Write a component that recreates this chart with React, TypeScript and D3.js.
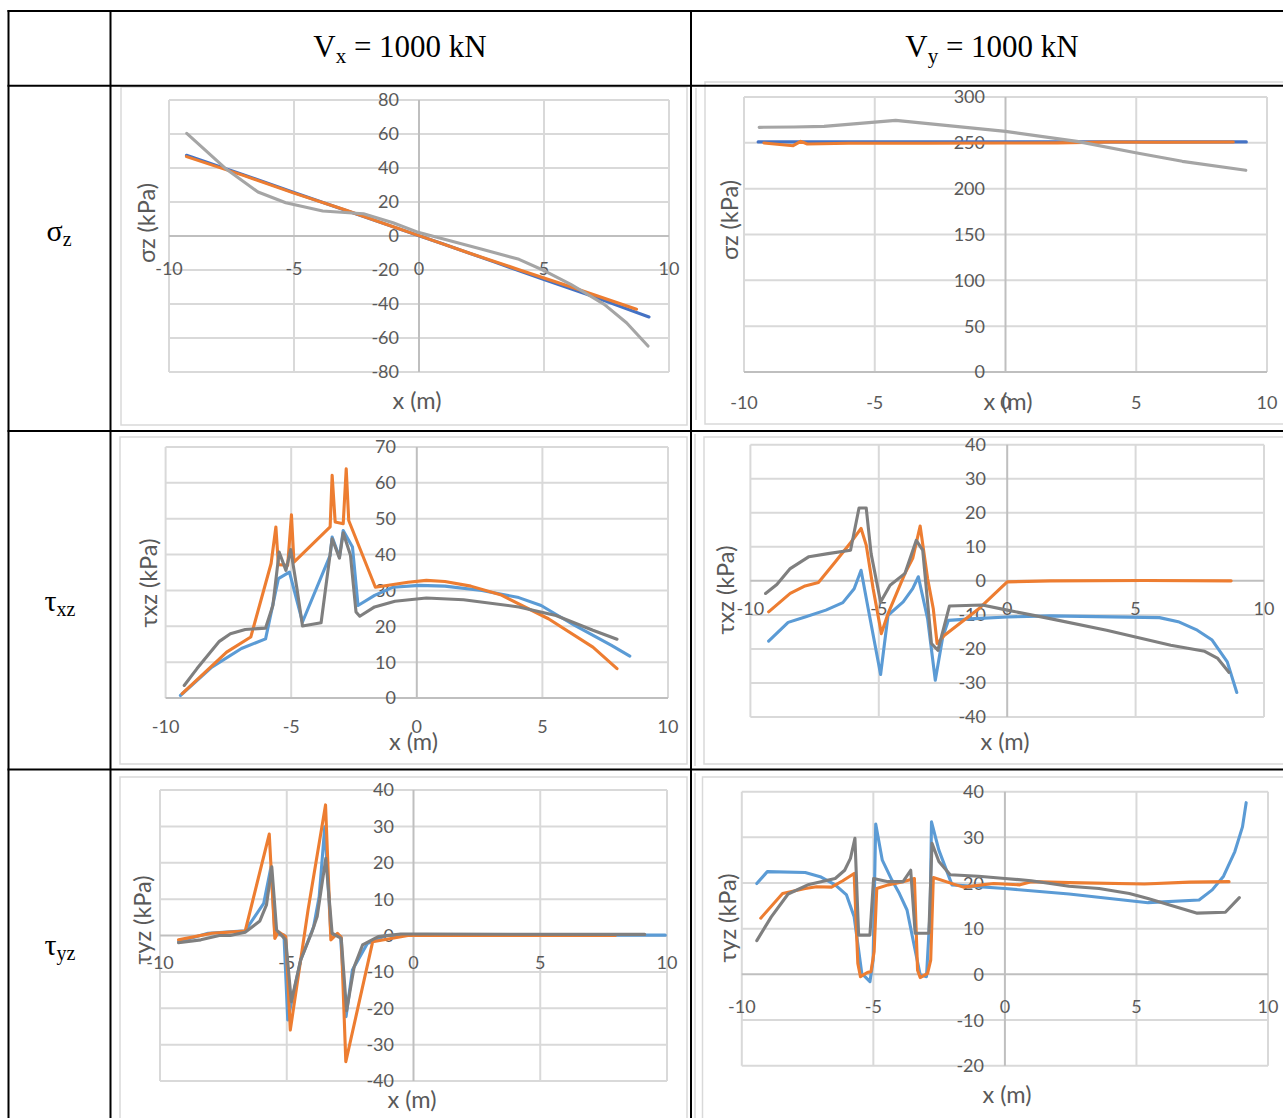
import React from 'react';
import * as d3 from 'd3';

type Pt = [number, number];

// ---------- tick labels & texts ----------
const xTicks = [-10, -5, 0, 5, 10];
const sigmaVxTicks = [-80, -60, -40, -20, 0, 20, 40, 60, 80];
const sigmaVyTicks = [0, 50, 100, 150, 200, 250, 300];
const tauXzVxTicks = [0, 10, 20, 30, 40, 50, 60, 70];
const tauXzVyTicks = [-40, -30, -20, -10, 0, 10, 20, 30, 40];
const tauYzVxTicks = [-40, -30, -20, -10, 0, 10, 20, 30, 40];
const tauYzVyTicks = [-20, -10, 0, 10, 20, 30, 40];

const columnHeaders = [
  { base: 'V', sub: 'x', rest: ' = 1000 kN' },
  { base: 'V', sub: 'y', rest: ' = 1000 kN' },
];
const rowHeaders = [
  { base: 'σ', sub: 'z' },
  { base: 'τ', sub: 'xz' },
  { base: 'τ', sub: 'yz' },
];
const yTitles = ['σz (kPa)', 'τxz (kPa)', 'τyz (kPa)'];
const xTitle = 'x (m)';

// ---------- σz, Vx ----------
const sigmaVxBlue: Pt[] = [[-9.3, 47.5], [-7, 35.9], [-5, 25.6], [-3, 15.4], [-1, 5.2], [0, 0.2], [1, -4.9], [3, -15.2], [5, -25.6], [7, -35.8], [9.2, -47.6]];
const sigmaVxOrange: Pt[] = [[-9.3, 46.7], [-7, 35.5], [-5, 25.2], [-3, 15.6], [-1, 5.3], [0, 0.2], [2, -10], [4, -19.8], [6, -29.6], [8.7, -43.1]];
const sigmaVxGray: Pt[] = [[-9.29, 60.4], [-7.7, 39.2], [-6.44, 25.9], [-5.33, 19.6], [-3.85, 14.7], [-2.22, 13.1], [-1.04, 7.8], [0, 2], [2.52, -7.8], [4, -13.7], [5.04, -20.6], [6.07, -28.4], [7.41, -40.2], [8.3, -51], [9.16, -64.7]];

// ---------- σz, Vy ----------
const sigmaVyBlue: Pt[] = [[-9.46, 251], [-5, 251], [0, 251], [5, 251], [9.21, 251]];
const sigmaVyOrange: Pt[] = [[-9.24, 249.8], [-8.12, 246.9], [-7.83, 251.6], [-7.58, 248.7], [-6, 249.5], [-3, 249.5], [0, 249.8], [2, 250], [4, 250.9], [6, 250.6], [8.71, 250.9]];
const sigmaVyGray: Pt[] = [[-9.42, 266.9], [-8.09, 267.3], [-6.94, 268], [-4.2, 274.5], [0, 262.5], [2.73, 251.6], [5.03, 238.9], [6.76, 229.8], [9.19, 220]];

// ---------- τxz, Vx ----------
const tauXzVxBlue: Pt[] = [[-9.41, 0.7], [-8.16, 8.6], [-6.98, 13.8], [-6.02, 16.5], [-5.51, 33.3], [-5.07, 35.1], [-4.55, 21.2], [-3.45, 39.8], [-3.37, 44.9], [-3.08, 39.3], [-2.93, 46.7], [-2.56, 42.1], [-2.34, 25.8], [-1.68, 28.6], [-0.94, 30.9], [0.09, 31.4], [1.12, 31.2], [2.59, 30], [4.06, 28], [4.95, 25.8], [6.27, 20.3], [7.75, 14.7], [8.48, 11.7]];
const tauXzVxOrange: Pt[] = [[-9.34, 1.2], [-7.57, 12.8], [-6.61, 17], [-5.8, 37.5], [-5.61, 47.7], [-5.51, 37.2], [-5.14, 37], [-4.99, 51.1], [-4.89, 37.9], [-3.45, 47.7], [-3.37, 62.1], [-3.25, 49.1], [-2.93, 48.6], [-2.81, 63.9], [-2.71, 49.5], [-1.65, 30.9], [-0.35, 32.3], [0.38, 32.8], [1.12, 32.5], [2.15, 31.2], [3.33, 28.8], [5.24, 22.1], [7.01, 14.2], [7.97, 8.2]];
const tauXzVxGray: Pt[] = [[-9.26, 3.5], [-8.75, 8.2], [-7.86, 15.8], [-7.42, 17.9], [-6.83, 19.1], [-6.02, 19.5], [-5.73, 25.8], [-5.48, 40.7], [-5.21, 35.6], [-5.02, 41.4], [-4.77, 30.5], [-4.55, 20.1], [-3.81, 21], [-3.37, 44.4], [-3.08, 39], [-2.93, 46.1], [-2.64, 39.8], [-2.42, 24], [-2.27, 22.8], [-1.68, 25.4], [-0.87, 27], [0.38, 27.9], [1.86, 27.4], [4.06, 25.4], [5.54, 23], [7.01, 18.9], [7.97, 16.4]];

// ---------- τxz, Vy ----------
const tauXzVyBlue: Pt[] = [[-9.29, -17.7], [-8.53, -12.2], [-7.87, -10.6], [-7.06, -8.6], [-6.4, -6.4], [-5.96, -2.3], [-5.69, 3.1], [-5.44, -7.1], [-4.93, -27.5], [-4.64, -10.1], [-4.05, -6.2], [-3.68, -2.3], [-3.46, 1.2], [-3.1, -11.1], [-2.8, -29.2], [-2.51, -16.5], [-2.29, -11.6], [-1.26, -11.1], [0, -10.6], [1.67, -10.3], [5.93, -10.8], [6.66, -12], [7.4, -14.5], [7.98, -17.4], [8.57, -23.8], [8.94, -32.8]];
const tauXzVyOrange: Pt[] = [[-9.29, -9.1], [-8.45, -3.7], [-7.87, -1.5], [-7.35, -0.5], [-6.69, 5.6], [-6.1, 11.2], [-5.69, 15.4], [-5.49, 10.5], [-5.22, -2.3], [-4.9, -15.5], [-4.64, -9.6], [-3.98, 2.2], [-3.68, 6.6], [-3.39, 16.1], [-3.1, 0.7], [-2.88, -8.1], [-2.73, -18.4], [-2.44, -16], [-1.12, -8.3], [0, -0.3], [1.67, 0], [5.34, 0.1], [8.72, 0]];
const tauXzVyGray: Pt[] = [[-9.41, -3.7], [-8.97, -1.1], [-8.45, 3.6], [-7.72, 7.1], [-6.98, 8], [-6.1, 9], [-5.77, 21.4], [-5.49, 21.4], [-5.3, 8], [-4.93, -6.2], [-4.56, -1.3], [-3.98, 2.2], [-3.54, 11.9], [-3.29, 9], [-2.95, -18.4], [-2.7, -20.4], [-2.25, -7.4], [-0.97, -7.1], [0, -8.6], [1.67, -11.1], [3.87, -14.5], [6.37, -18.9], [7.69, -20.7], [8.2, -22.8], [8.64, -26.9]];

// ---------- τyz, Vx ----------
const tauYzVxBlue: Pt[] = [[-9.27, -1.7], [-8.1, 0.6], [-6.64, 1.3], [-5.91, 8.8], [-5.62, 18.9], [-5.47, 0.6], [-5.11, 0.1], [-4.96, -23.2], [-4.45, -6.7], [-3.94, 2.4], [-3.72, 10.7], [-3.5, 29.9], [-3.26, 0.6], [-2.88, -0.3], [-2.66, -22.3], [-2.41, -9.5], [-1.82, -2.2], [-1.09, 0], [0, 0.1], [9.93, 0.1]];
const tauYzVxOrange: Pt[] = [[-9.27, -1.2], [-7.96, 0.6], [-6.64, 1.2], [-5.69, 27.9], [-5.47, -0.8], [-5.33, 1], [-5.04, -0.3], [-4.86, -26], [-4.16, 7], [-3.47, 35.9], [-3.26, -1.2], [-3, 0.6], [-2.85, -0.5], [-2.67, -34.7], [-1.61, -1.7], [-0.22, 0], [7.96, 0]];
const tauYzVxGray: Pt[] = [[-9.27, -2], [-8.39, -1.2], [-7.66, 0], [-7.23, 0], [-6.64, 0.9], [-6.06, 4], [-5.8, 8.4], [-5.59, 18.9], [-5.4, 1.5], [-5.04, -1.2], [-4.82, -18.2], [-4.45, -6.7], [-4.01, 0.9], [-3.8, 5.2], [-3.46, 21.2], [-3.21, 0.6], [-2.85, -0.8], [-2.64, -20.7], [-2.34, -8.6], [-2.01, -2.6], [-1.39, -0.3], [-0.51, 0.4], [0.51, 0.4], [9.12, 0.3]];

// ---------- τyz, Vy ----------
const tauYzVyBlue: Pt[] = [[-9.43, 19.9], [-9.03, 22.5], [-7.59, 22.3], [-7.02, 21.4], [-6.45, 19.6], [-6.02, 17.4], [-5.73, 12.6], [-5.44, 0.2], [-5.13, -1.6], [-5.01, 3.1], [-4.91, 32.9], [-4.66, 25], [-4.3, 20.7], [-4.01, 17.7], [-3.72, 14.1], [-3.44, 6.1], [-3.22, -0.1], [-2.98, -0.5], [-2.84, 14.1], [-2.79, 33.4], [-2.51, 27.2], [-2.01, 19.6], [0, 18.8], [2.44, 17.6], [5.44, 15.7], [7.38, 16.3], [7.88, 18.5], [8.31, 21.5], [8.74, 26.9], [9.03, 32.3], [9.17, 37.6]];
const tauYzVyOrange: Pt[] = [[-9.28, 12.3], [-8.45, 17.7], [-7.59, 18.8], [-7.16, 19.2], [-6.59, 19.1], [-6.16, 20.5], [-5.73, 22.1], [-5.59, 2.4], [-5.49, -0.5], [-5.23, 0.4], [-5.09, 0.6], [-4.97, 5], [-4.87, 18.8], [-4.44, 19.6], [-3.87, 20.3], [-3.44, 21], [-3.32, 0.9], [-3.22, -0.7], [-2.94, 0.2], [-2.82, 3.1], [-2.72, 21.2], [-1.86, 19.6], [-1.58, 19.1], [-0.43, 19.9], [0.57, 19.6], [1, 20.3], [2.44, 20.1], [5.3, 19.8], [7.02, 20.2], [8.52, 20.3]];
const tauYzVyGray: Pt[] = [[-9.43, 7.4], [-8.88, 12.6], [-8.24, 17.6], [-7.45, 19.7], [-6.45, 21], [-6.09, 22.8], [-5.87, 25.4], [-5.7, 29.8], [-5.56, 8.6], [-5.13, 8.6], [-4.99, 21], [-4.44, 20.3], [-3.87, 20.3], [-3.58, 22.8], [-3.41, 9], [-2.89, 9], [-2.77, 28.7], [-2.51, 24.7], [-2.08, 21.8], [-1, 21.5], [0, 21], [1, 20.5], [2.44, 19.3], [3.58, 18.8], [4.73, 17.7], [5.44, 16.6], [7.31, 13.4], [8.38, 13.6], [8.91, 16.8]];

// ---------- styles ----------
const BLUE_DARK = '#4472C4';
const BLUE_LIGHT = '#5B9BD5';
const ORANGE = '#ED7D31';
const GRAY_LIGHT = '#A5A5A5';
const GRAY_DARK = '#7F7F7F';
const GRID = '#d9d9d9';
const AXIS = '#bfbfbf';
const LABEL = '#595959';
const CHART_FONT = "Lato, 'Open Sans', sans-serif";
const SERIF = "'Liberation Serif', 'Times New Roman', serif";

interface Series { data: Pt[]; color: string }
interface ChartCfg {
  frame: [number, number, number, number];
  l: number; r: number; t: number; b: number;
  yDomain: [number, number];
  yTicks: number[];
  xLabelY: number;
  yLabelRight: number;
  xTitlePos: [number, number];
  yTitlePos: [number, number];
  yTitle: string;
  series: Series[];
  sideLine?: [number, number, number];
}

const charts: ChartCfg[] = [
  {
    frame: [121, 87, 687, 425], l: 169, r: 669, t: 100, b: 372,
    yDomain: [-80, 80], yTicks: sigmaVxTicks, xLabelY: 269, yLabelRight: 399,
    xTitlePos: [417, 401], yTitlePos: [147, 223], yTitle: yTitles[0],
    series: [{ data: sigmaVxBlue, color: BLUE_DARK }, { data: sigmaVxOrange, color: ORANGE }, { data: sigmaVxGray, color: GRAY_LIGHT }],
  },
  {
    frame: [705, 82, 1296, 424], l: 744, r: 1267, t: 97, b: 372,
    yDomain: [0, 300], yTicks: sigmaVyTicks, xLabelY: 403, yLabelRight: 985,
    xTitlePos: [1008, 402], yTitlePos: [730, 220], yTitle: yTitles[0],
    series: [{ data: sigmaVyBlue, color: BLUE_DARK }, { data: sigmaVyOrange, color: ORANGE }, { data: sigmaVyGray, color: GRAY_LIGHT }],
    sideLine: [696, 88, 420],
  },
  {
    frame: [120, 437, 687, 764], l: 165.6, r: 668, t: 447, b: 698,
    yDomain: [0, 70], yTicks: tauXzVxTicks, xLabelY: 727, yLabelRight: 396,
    xTitlePos: [413.5, 742], yTitlePos: [149, 583], yTitle: yTitles[1],
    series: [{ data: tauXzVxBlue, color: BLUE_LIGHT }, { data: tauXzVxOrange, color: ORANGE }, { data: tauXzVxGray, color: GRAY_DARK }],
  },
  {
    frame: [704, 437, 1296, 764], l: 750.4, r: 1264, t: 444.7, b: 717,
    yDomain: [-40, 40], yTicks: tauXzVyTicks, xLabelY: 609, yLabelRight: 986,
    xTitlePos: [1005, 742], yTitlePos: [726, 590], yTitle: yTitles[1],
    series: [{ data: tauXzVyBlue, color: BLUE_LIGHT }, { data: tauXzVyOrange, color: ORANGE }, { data: tauXzVyGray, color: GRAY_DARK }],
    sideLine: [695, 434, 766],
  },
  {
    frame: [120, 777, 687, 1130], l: 160, r: 667, t: 790, b: 1081,
    yDomain: [-40, 40], yTicks: tauYzVxTicks, xLabelY: 963, yLabelRight: 394,
    xTitlePos: [412, 1100], yTitlePos: [143, 920], yTitle: yTitles[2],
    series: [{ data: tauYzVxBlue, color: BLUE_LIGHT }, { data: tauYzVxOrange, color: ORANGE }, { data: tauYzVxGray, color: GRAY_DARK }],
  },
  {
    frame: [702.5, 777, 1296, 1130], l: 741.8, r: 1268, t: 791.7, b: 1065.7,
    yDomain: [-20, 40], yTicks: tauYzVyTicks, xLabelY: 1007, yLabelRight: 984,
    xTitlePos: [1007, 1095], yTitlePos: [728, 918], yTitle: yTitles[2],
    series: [{ data: tauYzVyBlue, color: BLUE_LIGHT }, { data: tauYzVyOrange, color: ORANGE }, { data: tauYzVyGray, color: GRAY_DARK }],
    sideLine: [695, 773, 1118],
  },
];

const TICK_FS = 18;
const TITLE_FS = 23.5;

function Chart({ cfg }: { cfg: ChartCfg }) {
  const x = d3.scaleLinear().domain([-10, 10]).range([cfg.l, cfg.r]);
  const y = d3.scaleLinear().domain(cfg.yDomain).range([cfg.b, cfg.t]);
  const line = d3.line<Pt>().x((d) => x(d[0])).y((d) => y(d[1]));
  const [fx0, fy0, fx1, fy1] = cfg.frame;
  return (
    <g>
      <rect x={fx0} y={fy0} width={fx1 - fx0} height={fy1 - fy0} fill="#fff" stroke={GRID} strokeWidth={1.5} />
      {cfg.sideLine && (
        <line x1={cfg.sideLine[0]} x2={cfg.sideLine[0]} y1={cfg.sideLine[1]} y2={cfg.sideLine[2]} stroke={GRID} strokeWidth={1.5} />
      )}
      {xTicks.filter((t) => t !== 0).map((t) => (
        <line key={'gx' + t} x1={x(t)} x2={x(t)} y1={cfg.t} y2={cfg.b} stroke={GRID} strokeWidth={2} />
      ))}
      {cfg.yTicks.filter((t) => t !== 0).map((t) => (
        <line key={'gy' + t} x1={cfg.l} x2={cfg.r} y1={y(t)} y2={y(t)} stroke={GRID} strokeWidth={2} />
      ))}
      <line x1={x(0)} x2={x(0)} y1={cfg.t} y2={cfg.b} stroke={AXIS} strokeWidth={2} />
      <line x1={cfg.l} x2={cfg.r} y1={y(0)} y2={y(0)} stroke={AXIS} strokeWidth={2} />
      <g fontFamily={CHART_FONT} fontSize={TICK_FS} fill={LABEL}>
        {cfg.yTicks.map((t) => (
          <text key={'ly' + t} x={cfg.yLabelRight} y={y(t) + TICK_FS * 0.36} textAnchor="end">{String(t)}</text>
        ))}
        {xTicks.map((t) => (
          <text key={'lx' + t} x={x(t)} y={cfg.xLabelY + TICK_FS * 0.36} textAnchor="middle">{String(t)}</text>
        ))}
      </g>
      <g fontFamily={CHART_FONT} fontSize={TITLE_FS} fill={LABEL}>
        <text x={cfg.xTitlePos[0]} y={cfg.xTitlePos[1] + TITLE_FS * 0.36} textAnchor="middle">{xTitle}</text>
        <text transform={`translate(${cfg.yTitlePos[0]},${cfg.yTitlePos[1]}) rotate(-90)`} y={TITLE_FS * 0.36} textAnchor="middle">{cfg.yTitle}</text>
      </g>
      {cfg.series.map((s, i) => (
        <path key={'s' + i} d={line(s.data) || ''} fill="none" stroke={s.color} strokeWidth={3.1} strokeLinejoin="round" strokeLinecap="round" />
      ))}
    </g>
  );
}

const colHeaderCenters = [400, 992];
const rowHeaderPos: [number, number][] = [[59, 241], [60, 611], [60, 955]];

export default function App() {
  return (
    <svg width={1283} height={1118} style={{ position: 'absolute', left: 0, top: 0, display: 'block', background: '#fff' }}>
      <rect x={0} y={0} width={1283} height={1118} fill="#fff" />
      {charts.map((c, i) => <Chart key={i} cfg={c} />)}
      {/* header row */}
      {columnHeaders.map((h, i) => (
        <text key={'ch' + i} x={colHeaderCenters[i]} y={57} textAnchor="middle" fontFamily={SERIF} fontSize={31} fill="#000">
          {h.base}
          <tspan fontSize={21} dy={6}>{h.sub}</tspan>
          <tspan dy={-6}>{h.rest}</tspan>
        </text>
      ))}
      {rowHeaders.map((h, i) => (
        <text key={'rh' + i} x={rowHeaderPos[i][0]} y={rowHeaderPos[i][1]} textAnchor="middle" fontFamily={SERIF} fontSize={30} fill="#000">
          {h.base}
          <tspan fontSize={20} dy={5}>{h.sub}</tspan>
        </text>
      ))}
      {/* table lines */}
      <g stroke="#000" strokeWidth={2}>
        <line x1={7.5} x2={1300} y1={11} y2={11} />
        <line x1={7.5} x2={1300} y1={85.7} y2={85.7} />
        <line x1={7.5} x2={1300} y1={431} y2={431} />
        <line x1={7.5} x2={1300} y1={769.5} y2={769.5} />
        <line x1={8.5} x2={8.5} y1={10} y2={1130} />
        <line x1={110.5} x2={110.5} y1={10} y2={1130} />
        <line x1={691} x2={691} y1={10} y2={1130} />
      </g>
    </svg>
  );
}
